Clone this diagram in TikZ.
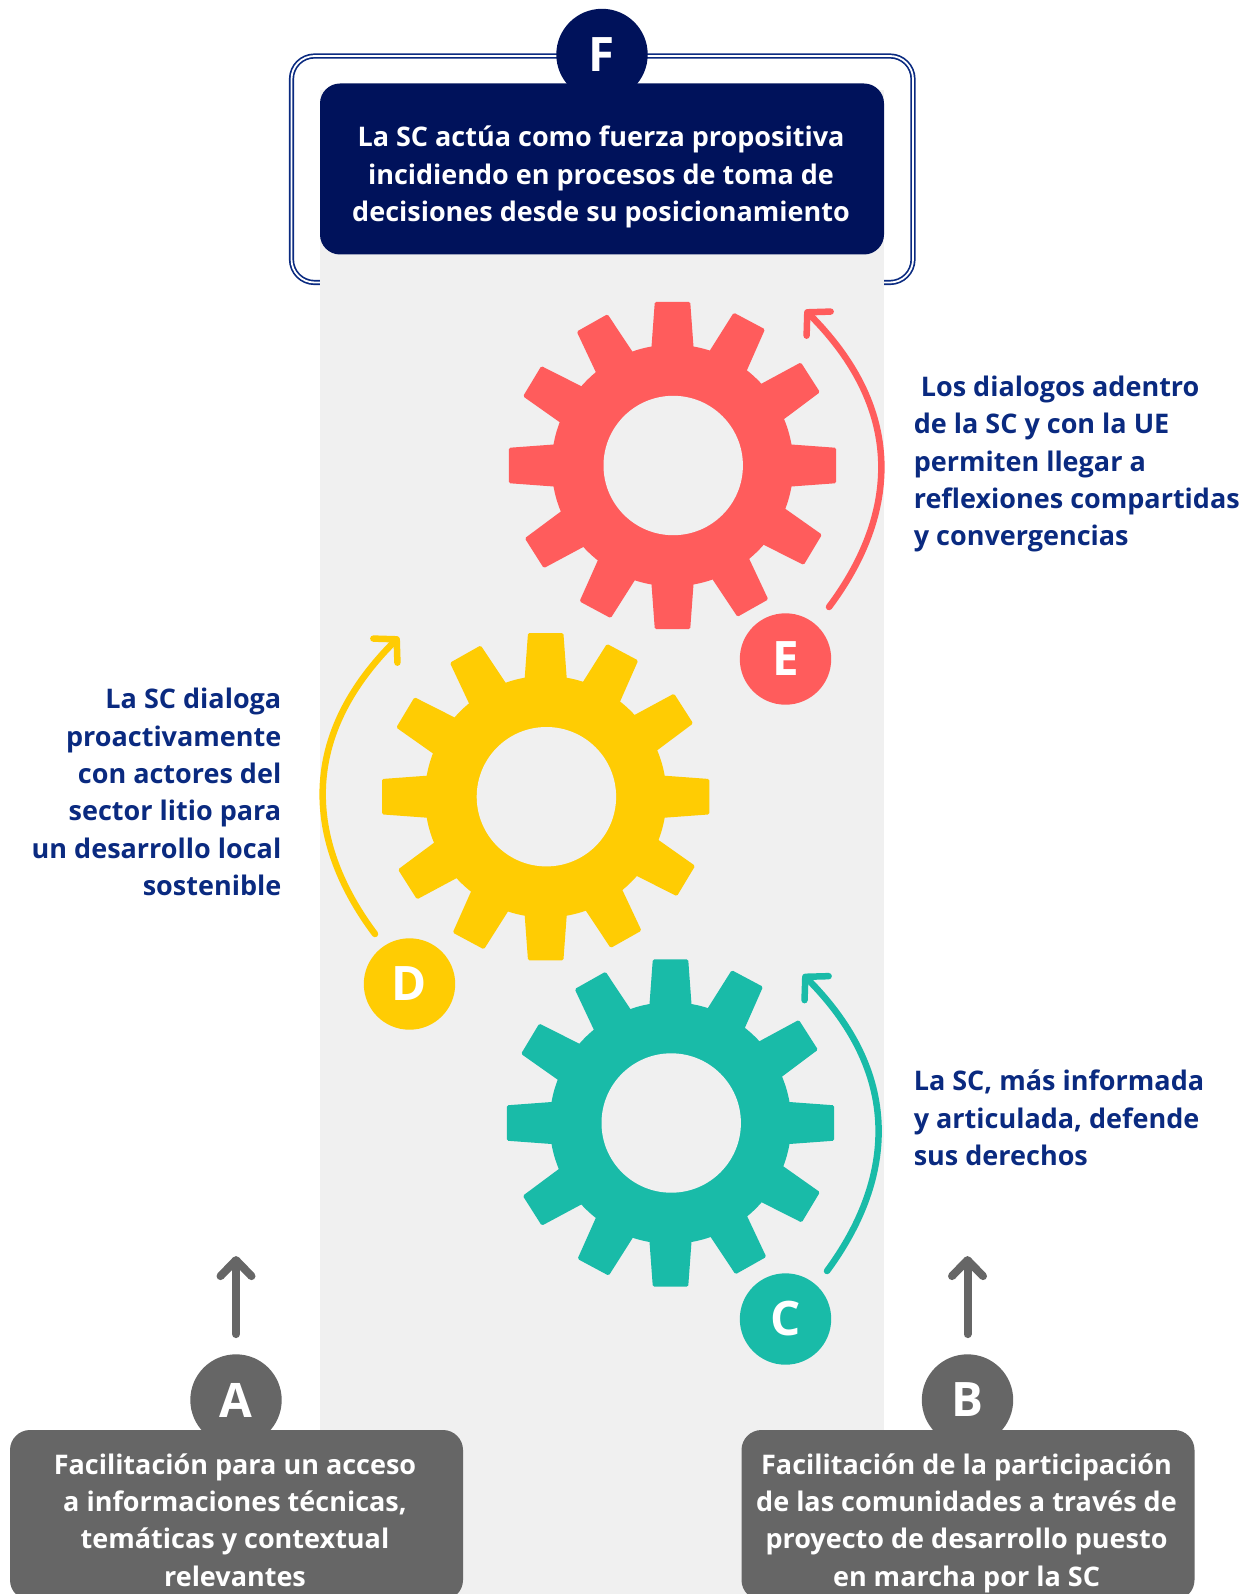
\documentclass[tikz,border=0pt]{standalone}
\usepackage{fontspec}
\setmainfont{Open Sans}
\usetikzlibrary{positioning,arrows.meta}
\definecolor{navyF}{HTML}{00125B}
\definecolor{navytext}{HTML}{0A2A80}
\definecolor{redE}{HTML}{FF5C5C}
\definecolor{yellowD}{HTML}{FFCC03}
\definecolor{tealC}{HTML}{19BBA8}
\definecolor{greybox}{HTML}{666666}
\definecolor{band}{HTML}{F0F0F0}

\begin{document}
\begin{tikzpicture}[x=1pt,y=-1pt]
		\tikzset{panel/.style={rounded corners=20pt, minimum width=453pt, minimum height=170pt, inner sep=0pt, fill=greybox}}
		\tikzset{badge/.style={circle, minimum size=91.4pt, inner sep=0pt, text=white, font=\fontsize{47.5}{47.5}\selectfont\bfseries}}
		\tikzset{note/.style={inner sep=0pt, text=navytext, font=\fontsize{27}{37.3}\selectfont\bfseries}}
		\tikzset{turn/.style={line width=6.5pt, line cap=round, -{Straight Barb[round,length=16pt,width=34pt,line width=6.5pt]}}}
		\tikzset{rise/.style={line width=8pt, line cap=round, draw=greybox, -{Straight Barb[round,length=16pt,width=31pt,line width=8pt]}}}
		\useasboundingbox (0,0) rectangle (1253,1594);
		\clip (0,0) rectangle (1253,1594);
		\draw[rounded corners=23pt, draw=navytext, line width=1.7pt, double=white, double distance=1.8pt] (291.5,56) rectangle (913,282.5);
		\fill[band] (320,90) rectangle (884,1594);
		\node[badge, fill=navyF] (badgeF) at (602,54.5) {F};
		\node[panel, fill=navyF, minimum width=564pt, minimum height=171pt] (boxF) at (602,169) {};
		\node[note, text=white, align=center] (textF) at (601,177) {La SC actúa como fuerza propositiva\\incidiendo en procesos de toma de\\decisiones desde su posicionamiento};
		\foreach \cx/\cy/\col in {672.5/465.5/redE, 545.7/796.7/yellowD, 670.5/1123/tealC} {
			\begin{scope}[shift={(\cx,\cy)}]
			\foreach \a in {90,62,32.6,0,-31,-60.6,-90,-118.2,-147.6,180,149,119.4}
				\fill[\col, rotate=\a, rounded corners=1.5pt] (112,-21.5) -- (163.7,-17.7) -- (163.7,17.7) -- (112,21.5) -- cycle;
			\fill[\col] (0,0) circle[radius=120.8];
			\fill[band] (0.7,0) circle[radius=69.7];
			\end{scope}
		}
		% letters
		\node[badge, fill=redE] (badgeE) at (785.5,659) {E};
		\node[badge, fill=yellowD] (badgeD) at (409.5,984) {D};
		\node[badge, fill=tealC] (badgeC) at (785.5,1319) {C};
		\coordinate (tailE) at (829,607);
		\coordinate (headE) at (805,310);
		\coordinate (tailD) at (375,934);
		\coordinate (headD) at (399,637);
		\coordinate (tailC) at (827,1271);
		\coordinate (headC) at (803,974.5);
		\draw[turn, redE] (tailE) .. controls (889,527) and (915,420) .. (headE);
		\draw[turn, yellowD] (tailD) .. controls (315,854) and (289,747) .. (headD);
		\draw[turn, tealC] (tailC) .. controls (886,1191) and (912,1084) .. (headC);
		\node[note, align=left, anchor=west] (textE) at (913.6,464) {\hspace*{7pt}Los dialogos adentro\\de la SC y con la UE\\permiten llegar a\\reflexiones compartidas\\y convergencias};
		\node[note, align=right, anchor=east] (textD) at (281.5,792) {La SC dialoga\\proactivamente\\con actores del\\sector litio para\\un desarrollo local\\sostenible};
		\node[note, align=left, anchor=west] (textC) at (913.6,1118) {La SC, más informada\\y articulada, defende\\sus derechos};
		\node[badge, fill=greybox] (badgeA) at (236,1400) {A};
		\node[badge, fill=greybox] (badgeB) at (967.5,1400) {B};
		\node[panel] (boxA) at (236.5,1515) {};
		\node[panel] (boxB) at (968,1515) {};
		\node[note, text=white, align=center] (textA) at (235,1520) {Facilitación para un acceso\\a informaciones técnicas,\\temáticas y contextual\\relevantes};
		\node[note, text=white, align=center] (textB) at (966.5,1523) {Facilitación de la participación\\de las comunidades a través de\\proyecto de desarrollo puesto\\en marcha por la SC};
		\coordinate[above=20pt of badgeA] (tailA);
		\coordinate[above=98pt of badgeA] (headA);
		\coordinate[above=20pt of badgeB] (tailB);
		\coordinate[above=98pt of badgeB] (headB);
		\draw[rise] (tailA) -- (headA);
		\draw[rise] (tailB) -- (headB);
	\end{tikzpicture}
\end{document}
